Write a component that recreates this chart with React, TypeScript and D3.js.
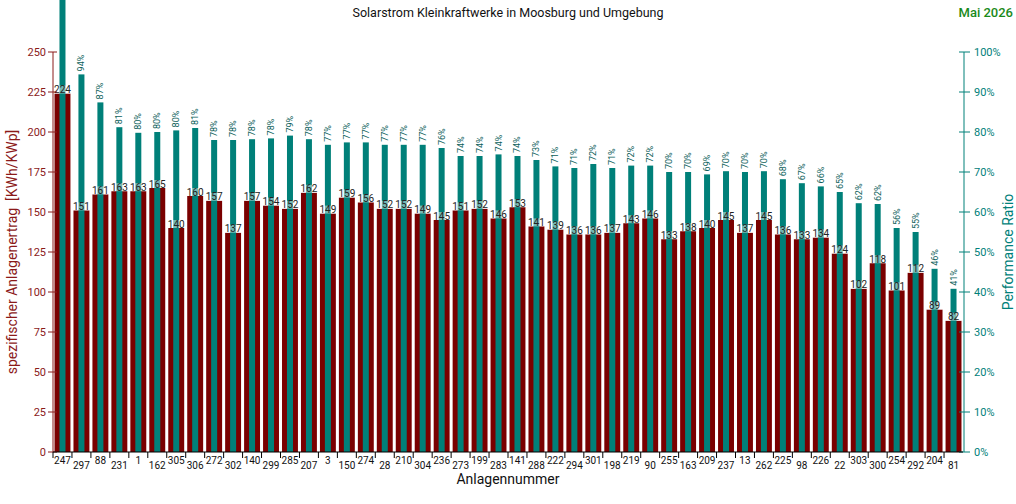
import React from 'react';
import * as d3 from 'd3';

const anlagen = ['247', '297', '88', '231', '1', '162', '305', '306', '272', '302', '140', '299', '285', '207', '3', '150', '274', '28', '210', '304', '236', '273', '199', '283', '141', '288', '222', '294', '301', '198', '219', '90', '255', '163', '209', '237', '13', '262', '225', '98', '226', '22', '303', '300', '254', '292', '204', '81'];

const ertrag = [224, 151, 161, 163, 163, 165, 140, 160, 157, 137, 157, 154, 152, 162, 149, 159, 156, 152, 152, 149, 145, 151, 152, 146, 153, 141, 139, 136, 136, 137, 143, 146, 133, 138, 140, 145, 137, 145, 136, 133, 134, 124, 102, 118, 101, 112, 89, 82];

const pr = [118, 94.4, 87.4, 81.2, 79.8, 80, 80.4, 81, 78, 78, 78.2, 78.4, 79.1, 78.2, 76.8, 77.4, 77.4, 76.8, 76.8, 76.8, 76, 74, 74, 74.4, 74, 73, 71.4, 71, 72, 71, 71.6, 71.6, 70, 70, 69.4, 70.2, 70, 70.2, 68.2, 67.2, 66.4, 65, 62.2, 62, 56, 55, 45.8, 40.8];

const yTicks = [0, 25, 50, 75, 100, 125, 150, 175, 200, 225, 250];
const prTicks = [0, 10, 20, 30, 40, 50, 60, 70, 80, 90, 100];

const RED = '#7a0000';
const TEAL = '#008079';
const AXIS_RED = '#8b1a1a';
const FONT = 'Roboto, sans-serif';

const App: React.FC = () => {
  const width = 1016;
  const height = 504;
  const margin = { top: 52, right: 53, bottom: 52, left: 53 };
  const innerW = width - margin.left - margin.right;
  const innerH = height - margin.top - margin.bottom;

  const x = d3.scaleBand<string>().domain(anlagen).range([0, innerW]).paddingInner(0.16).paddingOuter(0.08);
  const y = d3.scaleLinear().domain([0, 250]).range([innerH, 0]);
  const yPr = d3.scaleLinear().domain([0, 100]).range([innerH, 0]);

  const step = x.step();
  const bw = x.bandwidth();
  const tw = 6;

  return (
    <svg width={width} height={height} style={{ position: 'absolute', left: 0, top: 0, background: '#fff' }} fontFamily={FONT}>
      <text x={508} y={17} textAnchor="middle" fontSize={12.5} fill="#111">Solarstrom Kleinkraftwerke in Moosburg und Umgebung</text>
      <text x={1013} y={17} textAnchor="end" fontSize={13} fontWeight={500} fill="#1a8a1a">Mai 2026</text>

      <g transform={`translate(${margin.left},${margin.top})`}>
        {/* bars */}
        {anlagen.map((a, i) => {
          const cx = (x(a) || 0) + bw / 2;
          const yv = y(ertrag[i]);
          const pv = yPr(pr[i]);
          return (
            <g key={a}>
              <rect x={x(a)} y={yv} width={bw} height={innerH - yv} fill={RED} />
              <rect x={cx - tw / 2} y={pv} width={tw} height={innerH - pv} fill={TEAL} />
            </g>
          );
        })}

        {/* value labels */}
        {anlagen.map((a, i) => {
          const cx = (x(a) || 0) + bw / 2;
          const yv = y(ertrag[i]);
          const pv = yPr(pr[i]);
          return (
            <g key={'l' + a}>
              <rect x={cx - 8} y={yv - 8} width={16} height={8} fill="#fff" opacity={0.45} />
              <text x={cx} y={yv - 0.5} textAnchor="middle" fontSize={10} fill="#222">{ertrag[i]}</text>
              {pv + margin.top > 30 && (
                <text transform={`translate(${cx + 3},${pv - 3}) rotate(-90)`} fontSize={9} fill="#0d5f5b">{Math.round(pr[i])}%</text>
              )}
            </g>
          );
        })}

        {/* left axis */}
        <line x1={0} x2={0} y1={0} y2={innerH} stroke={AXIS_RED} />
        {yTicks.map(t => (
          <g key={t} transform={`translate(0,${y(t)})`}>
            <line x1={-5} x2={4} stroke={AXIS_RED} />
            <text x={-7} dy="0.35em" textAnchor="end" fontSize={11} fill={AXIS_RED}>{t}</text>
          </g>
        ))}

        {/* right axis */}
        <line x1={innerW + 1} x2={innerW + 1} y1={0} y2={innerH} stroke={TEAL} />
        {prTicks.map(t => (
          <g key={t} transform={`translate(${innerW + 1},${yPr(t)})`}>
            <line x1={-5} x2={6} stroke={TEAL} />
            <text x={10} dy="0.35em" fontSize={11} fill={TEAL}>{t}%</text>
          </g>
        ))}

        {/* bottom axis */}
        <line x1={0} x2={innerW} y1={innerH} y2={innerH} stroke="#000" />
        {anlagen.map((a, i) => (
          <g key={'t' + a}>
            <line x1={i * step} x2={i * step} y1={innerH} y2={innerH + 6} stroke="#000" />
            <text x={(x(a) || 0) + bw / 2} y={innerH + (i % 2 === 0 ? 12 : 17)} textAnchor="middle" fontSize={10} fill="#111">{a}</text>
          </g>
        ))}
      </g>

      <text x={508} y={484} textAnchor="middle" fontSize={14} fill="#111">Anlagennummer</text>
      <text transform={`translate(17,${margin.top + innerH / 2}) rotate(-90)`} textAnchor="middle" fontSize={14} fill={AXIS_RED}>{'spezifischer Anlagenertrag\u00a0 [KWh/KWp]'}</text>
      <text transform={`translate(1013,${margin.top + innerH / 2}) rotate(-90)`} textAnchor="middle" fontSize={14} fill={TEAL}>Performance Ratio</text>
    </svg>
  );
};

export default App;
